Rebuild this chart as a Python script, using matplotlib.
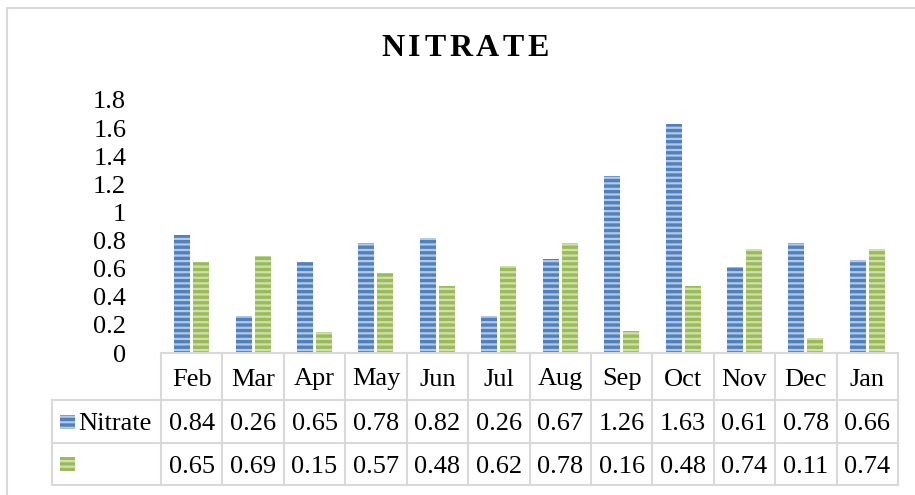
"""
nitrate bar chart with a data table underneath
"""

import matplotlib
matplotlib.use("Agg")
import matplotlib.pyplot as plt
from matplotlib.patches import Rectangle

# data
months = ['Feb', 'Mar', 'Apr', 'May', 'Jun', 'Jul', 'Aug', 'Sep', 'Oct', 'Nov', 'Dec', 'Jan']
nitrate = [0.84, 0.26, 0.65, 0.78, 0.82, 0.26, 0.67, 1.26, 1.63, 0.61, 0.78, 0.66]
second = [0.65, 0.69, 0.15, 0.57, 0.48, 0.62, 0.78, 0.16, 0.48, 0.74, 0.11, 0.74]
series_names = ['Nitrate', '']
yticks = [0, 0.2, 0.4, 0.6, 0.8, 1, 1.2, 1.4, 1.6, 1.8]
ytick_labels = ['0', '0.2', '0.4', '0.6', '0.8', '1', '1.2', '1.4', '1.6', '1.8']

#colours
blue_dark, blue_light = '#4f81bd', '#b4c8e4'
green_dark, green_light = '#9bbb59', '#cfe0ad'
grid_col = '#d9d9d9'

plt.rcParams['font.family'] = ['Liberation Serif', 'DejaVu Serif']
plt.rcParams['hatch.linewidth'] = 2.4
fs = 19

W, H = 915, 495
fig = plt.figure(figsize=(W / 100, H / 100), dpi=100)

# axes in pixel box: left 161, right 898, top 100, bottom 353
ax = fig.add_axes([161 / W, (H - 353) / H, 737 / W, 253 / H])

x = list(range(len(months)))
bw = 0.26
ax.bar([i - 0.155 for i in x], nitrate, width=bw, color=blue_light,
       edgecolor=blue_dark, hatch='---', linewidth=0)
ax.bar([i + 0.155 for i in x], second, width=bw, color=green_light,
       edgecolor=green_dark, hatch='---', linewidth=0)

ax.set_xlim(-0.5, len(months) - 0.5)
ax.set_ylim(0, 1.8)
ax.set_yticks(yticks)
ax.set_yticklabels(ytick_labels, fontsize=fs)
ax.tick_params(axis='y', length=0, pad=25)
ax.set_xticks([])
for s in ['top', 'right', 'left']:
    ax.spines[s].set_visible(False)
ax.spines['bottom'].set_color(grid_col)
ax.spines['bottom'].set_linewidth(1.5)

# table under the chart (x in data units, y in axes units)
tr = ax.get_xaxis_transform()
y_head_bot = -47 / 253
y_r1_bot = -90 / 253
y_r2_bot = -132 / 253
x_left = -0.5 - 109 / 61.42
x_right = len(months) - 0.5
nudge = -3 / 253  # text sits a little low in the cells

line_kw = dict(color=grid_col, lw=1.5, transform=tr, clip_on=False)
for i in range(len(months) + 1):
    ax.plot([i - 0.5, i - 0.5], [0, y_r2_bot], **line_kw)
ax.plot([x_left, x_left], [y_head_bot, y_r2_bot], **line_kw)
for yy in [y_head_bot, y_r1_bot, y_r2_bot]:
    ax.plot([x_left, x_right], [yy, yy], **line_kw)

for i, m in enumerate(months):
    ax.text(i, y_head_bot / 2 + nudge, m, ha='center', va='center', fontsize=fs,
            transform=tr, clip_on=False)
    ax.text(i, (y_head_bot + y_r1_bot) / 2 + nudge, f'{nitrate[i]:.2f}', ha='center',
            va='center', fontsize=fs, transform=tr)
    ax.text(i, (y_r1_bot + y_r2_bot) / 2 + nudge, f'{second[i]:.2f}', ha='center',
            va='center', fontsize=fs, transform=tr)

# legend keys inside the left column
rows = [(y_head_bot + y_r1_bot) / 2, (y_r1_bot + y_r2_bot) / 2]
keys = [(blue_light, blue_dark), (green_light, green_dark)]
kx = x_left + 8 / 61.42
for yc, (fc, ec), name in zip(rows, keys, series_names):
    ax.add_patch(Rectangle((kx, yc - 7 / 253), 15 / 61.42, 14 / 253,
                           facecolor=fc, edgecolor=ec, hatch='---', lw=0,
                           transform=tr, clip_on=False))
    ax.text(kx + 18 / 61.42, yc + nudge, name, ha='left', va='center', fontsize=fs,
            transform=tr)

# title with letter spacing
title = 'NITRATE'
renderer = fig.canvas.get_renderer()
spacing = 3.5
parts = []
for ch in title:
    t = fig.text(0, 0, ch, fontsize=23, fontweight='bold', va='center', ha='left')
    parts.append((t, t.get_window_extent(renderer).width))
total = sum(w for _, w in parts) + spacing * (len(parts) - 1)
cx = 465 - total / 2
for t, w in parts:
    t.set_position((cx / W, 1 - 48 / H))
    cx += w + spacing

# outer frame, cut off at right and bottom like the source
fig.add_artist(Rectangle((6.5 / W, -0.1), 1.2, 1 - 8 / H + 0.1, fill=False,
                         edgecolor='#d9d9d9', lw=1.5, transform=fig.transFigure))

fig.savefig('out.png', dpi=100)
